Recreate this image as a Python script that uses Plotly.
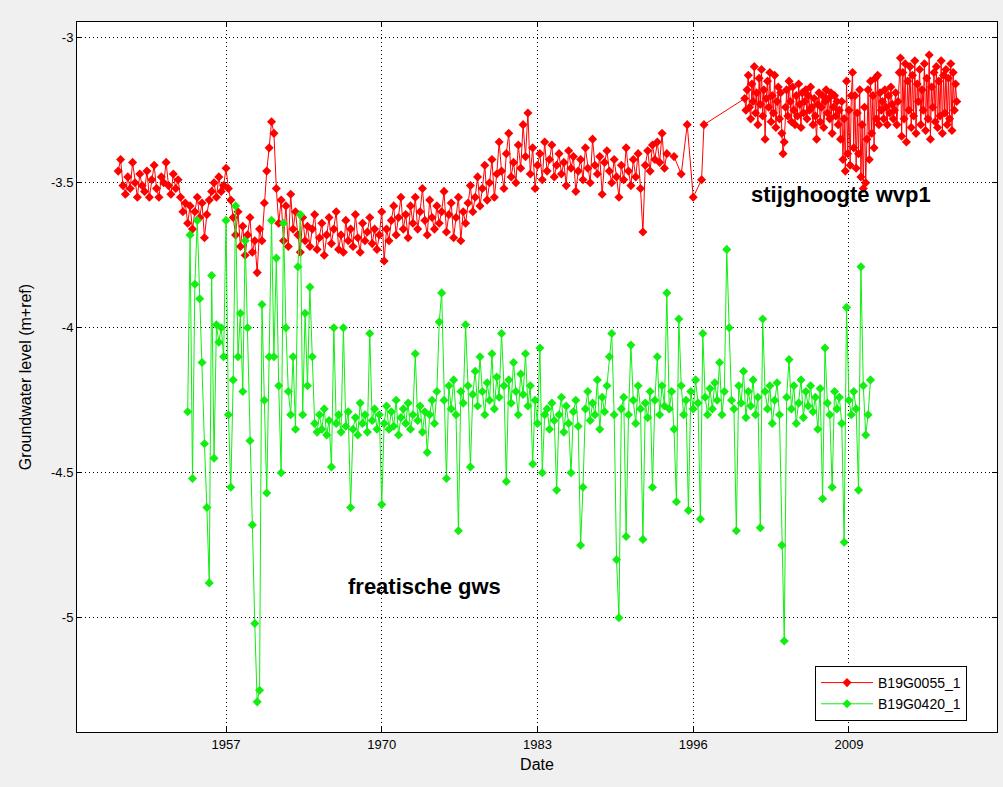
import numpy as np
import plotly.graph_objects as go

# ---------------- data (decimal years, groundwater level in m+ref) ----------------
# B19G0055_1 : dense record 1948-1993 (every ~0.2 yr)
red_a_start = 1948.0
red_a_step = 0.2
red_a_values = [
    -3.46, -3.42, -3.51, -3.54, -3.48,
    -3.52, -3.43, -3.50, -3.55, -3.47,
    -3.51, -3.53, -3.46, -3.55, -3.49,
    -3.44, -3.52, -3.55, -3.48, -3.50,
    -3.43, -3.51, -3.54, -3.47, -3.52,
    -3.49, -3.55, -3.60, -3.57, -3.64,
    -3.58, -3.66, -3.60, -3.55, -3.62,
    -3.57, -3.69, -3.61, -3.56, -3.53,
    -3.50, -3.55, -3.48, -3.53, -3.51,
    -3.45, -3.52, -3.56, -3.62, -3.68,
    -3.60, -3.72, -3.65, -3.75, -3.68,
    -3.62, -3.74, -3.70, -3.81, -3.66,
    -3.70, -3.57, -3.46, -3.38, -3.29,
    -3.33, -3.52, -3.64, -3.56, -3.70,
    -3.58, -3.72, -3.54, -3.66, -3.60,
    -3.68, -3.74, -3.62, -3.70, -3.65,
    -3.72, -3.66, -3.61, -3.73, -3.69,
    -3.64, -3.75, -3.68, -3.62, -3.71,
    -3.66, -3.60, -3.73, -3.68, -3.74,
    -3.63, -3.70, -3.66, -3.72, -3.61,
    -3.69, -3.74, -3.64, -3.70, -3.67,
    -3.62, -3.71, -3.66, -3.73, -3.68,
    -3.60, -3.77, -3.66, -3.70, -3.63,
    -3.58, -3.68, -3.62, -3.55, -3.66,
    -3.61, -3.69, -3.58, -3.64, -3.55,
    -3.66, -3.60, -3.52, -3.63, -3.68,
    -3.56, -3.62, -3.66, -3.58, -3.64,
    -3.60, -3.53, -3.67, -3.61, -3.57,
    -3.69, -3.62, -3.55, -3.70, -3.60,
    -3.64, -3.57, -3.51, -3.60, -3.55,
    -3.48, -3.58, -3.52, -3.44, -3.56,
    -3.50, -3.42, -3.55, -3.47, -3.36,
    -3.46, -3.52, -3.40, -3.33, -3.48,
    -3.43, -3.50, -3.37, -3.45, -3.30,
    -3.41, -3.26, -3.47, -3.38, -3.52,
    -3.44, -3.40, -3.49, -3.36, -3.46,
    -3.42, -3.37, -3.48, -3.44, -3.40,
    -3.47, -3.43, -3.51, -3.39, -3.45,
    -3.41, -3.53, -3.46, -3.42, -3.49,
    -3.38, -3.45, -3.50, -3.35, -3.44,
    -3.47, -3.41, -3.54, -3.43, -3.39,
    -3.46, -3.50, -3.42, -3.48, -3.55,
    -3.44, -3.49, -3.38, -3.46, -3.51,
    -3.42, -3.48, -3.40, -3.52, -3.67,
    -3.44, -3.39, -3.46, -3.37, -3.42,
    -3.36, -3.43, -3.33, -3.45, -3.40,
]
# B19G0055_1 : sparse measurements 1994-1997
red_b_years = [1994.4, 1995.0, 1995.5, 1996.0, 1996.7, 1996.9]
red_b_values = [-3.41, -3.47, -3.30, -3.55, -3.49, -3.30]
# B19G0055_1 : dense record 2000.3-2018 (every ~0.1 yr)
red_c_start = 2000.3
red_c_step = 0.1
red_c_values = [
    -3.21, -3.25, -3.18, -3.13, -3.24, -3.28, -3.16, -3.22, -3.10, -3.26,
    -3.19, -3.30, -3.14, -3.23, -3.11, -3.27, -3.18, -3.35, -3.21, -3.15,
    -3.24, -3.12, -3.29, -3.20, -3.26, -3.13, -3.31, -3.22, -3.17, -3.28,
    -3.19, -3.33, -3.40, -3.36, -3.24, -3.18, -3.27, -3.15, -3.22, -3.29,
    -3.17, -3.25, -3.30, -3.20, -3.27, -3.16, -3.23, -3.31, -3.19, -3.26,
    -3.22, -3.18, -3.28, -3.20, -3.25, -3.17, -3.24, -3.30, -3.21, -3.27,
    -3.35, -3.23, -3.19, -3.29, -3.24, -3.20, -3.31, -3.22, -3.18, -3.26,
    -3.21, -3.28, -3.19, -3.33, -3.24, -3.20, -3.27, -3.22, -3.30, -3.25,
    -3.35, -3.22, -3.42, -3.28, -3.46, -3.15, -3.40, -3.25, -3.44, -3.20,
    -3.12, -3.38, -3.20, -3.45, -3.26, -3.40, -3.18, -3.48, -3.30, -3.52,
    -3.24, -3.50, -3.35, -3.18, -3.42, -3.15, -3.33, -3.20, -3.38, -3.14,
    -3.28, -3.13, -3.30, -3.19, -3.25, -3.22, -3.28, -3.18, -3.24, -3.30,
    -3.20, -3.26, -3.17, -3.23, -3.28, -3.25, -3.19, -3.30, -3.22, -3.12,
    -3.07, -3.34, -3.12, -3.28, -3.09, -3.36, -3.15, -3.25, -3.10, -3.31,
    -3.13, -3.27, -3.08, -3.33, -3.16, -3.22, -3.11, -3.30, -3.18, -3.25,
    -3.09, -3.32, -3.14, -3.28, -3.06, -3.35, -3.17, -3.24, -3.12, -3.29,
    -3.10, -3.31, -3.15, -3.27, -3.08, -3.33, -3.13, -3.26, -3.11, -3.30,
    -3.14, -3.28, -3.09, -3.32, -3.12, -3.25, -3.16, -3.22,
]

# B19G0420_1 : record 1953.8-2010.8 (every ~0.2 yr)
green_start = 1953.8
green_step = 0.2
green_values = [
    -4.29, -3.68, -4.52, -3.85, -3.63,
    -3.90, -4.12, -4.40, -4.62, -4.88,
    -3.82, -4.45, -3.99, -4.05, -4.00,
    -4.10, -3.63, -4.30, -4.55, -4.18,
    -3.58, -4.10, -3.95, -4.22, -3.70,
    -4.00, -4.39, -4.68, -5.02, -5.29,
    -5.25, -3.92, -4.25, -4.57, -4.10,
    -3.63, -4.10, -3.76, -4.20, -4.50,
    -3.64, -4.00, -4.22, -4.30, -4.10,
    -4.35, -3.79, -3.61, -4.30, -3.95,
    -4.20, -3.86, -4.10, -4.33, -4.36,
    -4.30, -4.35, -4.28, -4.37, -4.32,
    -4.48, -4.00, -4.33, -4.30, -4.36,
    -4.00, -4.34, -4.29, -4.62, -4.35,
    -4.31, -4.37, -4.26, -4.33, -4.30,
    -4.36, -4.02, -4.32, -4.28, -4.35,
    -4.30, -4.61, -4.33, -4.27, -4.35,
    -4.29, -4.34, -4.25, -4.37, -4.31,
    -4.28, -4.33, -4.26, -4.35, -4.30,
    -4.09, -4.32, -4.27, -4.36, -4.29,
    -4.43, -4.30, -4.25, -4.33, -4.22,
    -3.98, -3.88, -4.25, -4.52, -4.20,
    -4.28, -4.18, -4.30, -4.70, -4.22,
    -4.26, -3.99, -4.20, -4.48, -4.23,
    -4.15, -4.27, -4.10, -4.22, -4.30,
    -4.19, -4.25, -4.09, -4.28, -4.17,
    -4.24, -4.02, -4.20, -4.53, -4.18,
    -4.26, -4.12, -4.22, -4.30, -4.16,
    -4.23, -4.09, -4.27, -4.20, -4.47,
    -4.25, -4.33, -4.07, -4.50, -4.30,
    -4.28, -4.35, -4.26, -4.32, -4.56,
    -4.30, -4.24, -4.36, -4.27, -4.33,
    -4.50, -4.29, -4.25, -4.34, -4.75,
    -4.55, -4.28, -4.22, -4.32, -4.26,
    -4.30, -4.18, -4.35, -4.24, -4.29,
    -4.20, -4.10, -4.02, -4.30, -4.80,
    -5.00, -4.28, -4.24, -4.72, -4.30,
    -4.06, -4.25, -4.33, -4.20, -4.28,
    -4.73, -4.26, -4.31, -4.22, -4.55,
    -4.25, -4.10, -4.30, -4.20, -4.27,
    -3.88, -4.28, -4.22, -4.35, -4.60,
    -3.97, -4.20, -4.30, -4.25, -4.63,
    -4.22, -4.28, -4.18, -4.26, -4.66,
    -4.02, -4.24, -4.30, -4.21, -4.28,
    -4.19, -4.25, -4.12, -4.30, -4.22,
    -3.73, -4.00, -4.25, -4.28, -4.70,
    -4.20, -4.26, -4.15, -4.31, -4.22,
    -4.27, -4.18, -4.30, -4.24, -4.69,
    -3.97, -4.22, -4.28, -4.20, -4.33,
    -4.25, -4.19, -4.30, -4.75, -5.08,
    -4.24, -4.11, -4.28, -4.20, -4.33,
    -4.26, -4.18, -4.31, -4.22, -4.27,
    -4.20, -4.29, -4.24, -4.35, -4.21,
    -4.59, -4.07, -4.26, -4.30, -4.55,
    -4.22, -4.28, -4.24, -4.33, -4.74,
    -3.93, -4.25, -4.30, -4.22, -4.28,
    -4.56, -3.79, -4.20, -4.37, -4.30,
    -4.18,
]

series_names = ["B19G0055_1", "B19G0420_1"]
x_tick_years = [1957, 1970, 1983, 1996, 2009]
y_tick_values = [-3, -3.5, -4, -4.5, -5]
y_tick_labels = ["-3", "-3.5", "-4", "-4.5", "-5"]

# ---------------- build series ----------------
x_red = np.concatenate([
    red_a_start + red_a_step * np.arange(len(red_a_values)),
    np.array(red_b_years),
    red_c_start + red_c_step * np.arange(len(red_c_values)),
])
y_red = red_a_values + red_b_values + red_c_values
x_green = green_start + green_step * np.arange(len(green_values))

RED = "#ff0000"
GREEN = "#12ee12"

fig = go.Figure()
fig.add_trace(go.Scatter(
    x=x_red, y=y_red, mode="lines+markers", name=series_names[0],
    line=dict(color=RED, width=1),
    marker=dict(symbol="diamond", size=7, color=RED),
))
fig.add_trace(go.Scatter(
    x=x_green, y=green_values, mode="lines+markers", name=series_names[1],
    line=dict(color=GREEN, width=1),
    marker=dict(symbol="diamond", size=7, color=GREEN),
))

axis_common = dict(
    showgrid=True, gridcolor="#000000", gridwidth=1, griddash="1px,3px",
    showline=True, linecolor="#000000", linewidth=1, mirror="ticks",
    ticks="inside", ticklen=5, tickcolor="#000000", zeroline=False,
    tickfont=dict(size=13, color="#000000"),
)

fig.update_layout(
    width=1003, height=787,
    paper_bgcolor="#f0f0f0", plot_bgcolor="#ffffff",
    margin=dict(l=77, r=6, t=22, b=55),
    font=dict(family="Liberation Sans, Arial, sans-serif", size=13, color="#000000"),
    xaxis=dict(
        range=[1944.56, 2021.36],
        tickvals=x_tick_years, ticktext=[str(v) for v in x_tick_years],
        title=dict(text="Date", font=dict(size=16), standoff=8),
        **axis_common,
    ),
    yaxis=dict(
        range=[-5.394, -2.946],
        tickvals=y_tick_values, ticktext=y_tick_labels,
        title=dict(text="Groundwater level (m+ref)", font=dict(size=16)),
        **axis_common,
    ),
    legend=dict(
        x=0.9674, y=0.0155, xanchor="right", yanchor="bottom",
        bgcolor="#ffffff", bordercolor="#000000", borderwidth=1,
        font=dict(size=14), itemwidth=52,
    ),
    annotations=[
        dict(x=2008.3, y=-3.542, xref="x", yref="y", text="<b>stijghoogte wvp1</b>",
             showarrow=False, font=dict(size=22, color="#000000")),
        dict(x=1973.55, y=-4.894, xref="x", yref="y", text="<b>freatische gws</b>",
             showarrow=False, font=dict(size=22, color="#000000")),
    ],
)

fig.write_html("out.html", config={"displayModeBar": False})
